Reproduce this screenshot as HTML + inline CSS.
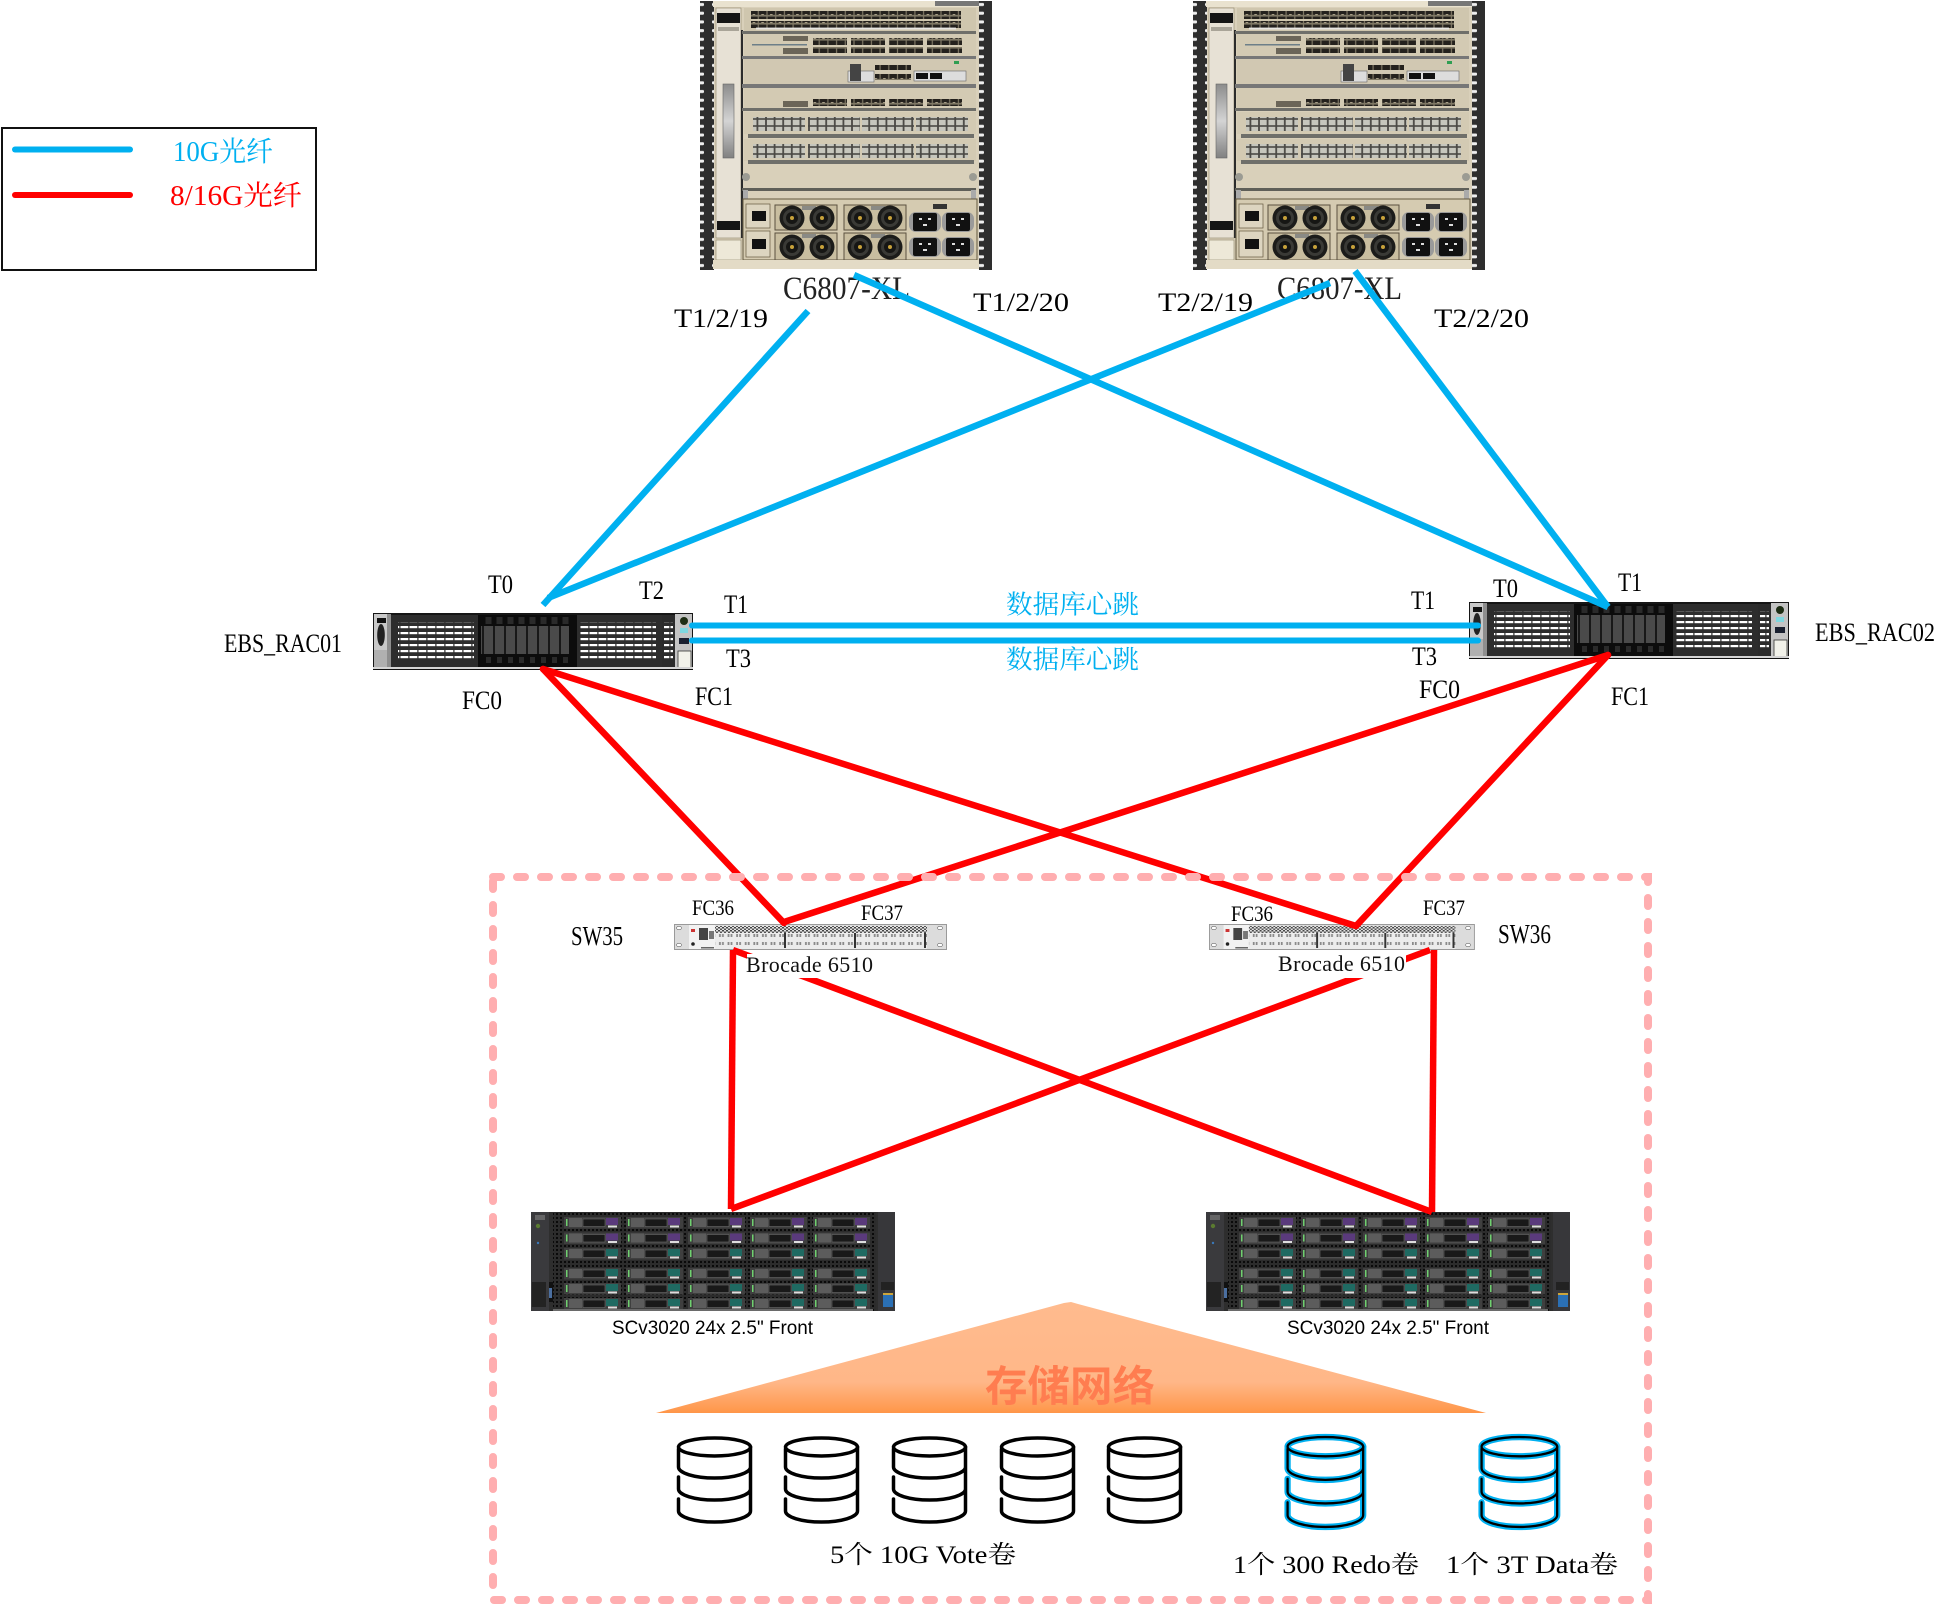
<!DOCTYPE html>
<html lang="zh">
<head>
<meta charset="utf-8">
<title>Network diagram</title>
<style>
html,body{margin:0;padding:0;background:#fff}
svg{display:block}
text{font-family:"Liberation Serif","Noto Serif CJK SC",serif;fill:#000}
.s{font-family:"Liberation Sans","Noto Sans CJK SC",sans-serif}
.b{fill:#00b0f0}
.r{fill:#f00}
</style>
</head>
<body>
<svg width="1949" height="1605" viewBox="0 0 1949 1605">
<defs>
<pattern id="holes" patternUnits="userSpaceOnUse" width="14" height="8.7"><rect width="14" height="8.7" fill="#2e2e2e"/><rect x="4" y="3" width="6" height="3" rx="1" fill="#eee"/></pattern>
<pattern id="pd" patternUnits="userSpaceOnUse" width="8.7" height="8"><rect width="8.7" height="8" fill="#7f7865"/><rect x=".6" y=".6" width="7.5" height="6.2" fill="#24211d"/><rect x="3" y="6" width="2.6" height="1" fill="#a89f88"/></pattern>
<pattern id="pl" patternUnits="userSpaceOnUse" width="8.6" height="7"><rect width="8.6" height="7" fill="#4a4945"/><rect x=".9" y=".8" width="6.8" height="5.4" fill="#c6c6bd"/></pattern>
<pattern id="vent" patternUnits="userSpaceOnUse" width="9" height="6"><rect width="9" height="6" fill="#2d2d2d"/><rect x=".5" y="1" width="7.8" height="2.2" fill="#fff"/></pattern>
<pattern id="bay" patternUnits="userSpaceOnUse" width="11" height="52"><rect width="11" height="52" fill="#0c0c0c"/><rect x="2.5" y="2" width="6" height="9" fill="#2a2a2a"/><rect x=".8" y="13" width="9.4" height="28" fill="#4a4a4a"/><rect x="3" y="44" width="5" height="6" fill="#2a2a2a"/></pattern>
<pattern id="hatch" patternUnits="userSpaceOnUse" width="4" height="3"><rect width="4" height="3" fill="#e4e4e4"/><rect width="2" height="1.5" fill="#444"/><rect x="2" y="1.5" width="2" height="1.5" fill="#555"/></pattern>
<pattern id="swp" patternUnits="userSpaceOnUse" width="8.6" height="8"><rect width="8.6" height="8" fill="#ececec"/><rect x="2" y="2" width="1.8" height="3" fill="#8a8a8a"/><rect x="5" y="2" width="1.8" height="3" fill="#8a8a8a"/></pattern>
<pattern id="perf" patternUnits="userSpaceOnUse" width="4" height="4"><rect width="4" height="4" fill="#2c2c2c"/><rect x="1" y="1" width="2" height="2" fill="#0a0a0a"/></pattern>
<linearGradient id="bar" x1="0" y1="0" x2="0" y2="1"><stop offset="0" stop-color="#8c8c8c"/><stop offset=".5" stop-color="#d4d4d4"/><stop offset="1" stop-color="#808080"/></linearGradient>
<linearGradient id="tri" x1="0" y1="0" x2="0" y2="1"><stop offset="0" stop-color="#ffbb8e"/><stop offset=".72" stop-color="#ffb788"/><stop offset="1" stop-color="#ff9648"/></linearGradient>

<g id="fan"><circle r="12.500" fill="#1c1c1a"/><circle r="9" fill="#3a3a36"/><circle r="6" fill="#161614"/><circle r="2" fill="#c8a23a"/></g>
<g id="outlet"><rect x="-16" y="-10" width="32" height="20" rx="7" fill="#9a9a9a"/><rect x="-12" y="-9" width="24" height="18" rx="2" fill="#111"/><rect x="-6" y="-4" width="3" height="2" fill="#ddd"/><rect x="3" y="-4" width="3" height="2" fill="#ddd"/><rect x="-2" y="2" width="4" height="2" fill="#ddd"/></g>

<g id="ch">
<rect x="33" y="1" width="266" height="268" fill="#d9d0ba"/>
<rect x="20" y="1" width="14" height="269" fill="url(#holes)"/>
<rect x="299" y="1" width="13" height="269" fill="url(#holes)"/>
<rect x="33" y="1" width="266" height="6" fill="#e9e2cf"/>
<rect x="255" y="1" width="44" height="5" fill="#777"/>
<rect x="36" y="8" width="25" height="230" fill="#e7e1d5" stroke="#8d8468" stroke-width=".6"/>
<rect x="37" y="13" width="23" height="10" fill="#151515"/>
<rect x="37" y="221" width="23" height="9" fill="#151515"/>
<rect x="38" y="27" width="21" height="4" fill="#a9a498"/>
<rect x="43" y="84" width="11" height="74" fill="url(#bar)" stroke="#666" stroke-width=".6"/>
<rect x="36" y="240" width="25" height="20" fill="#ede8d8" stroke="#8d8468" stroke-width=".6"/>
<rect x="61" y="30" width="2" height="208" fill="#2b2b2b"/>
<rect x="64" y="8" width="232" height="23" fill="#cfc6ae"/>
<rect x="71" y="11" width="210" height="8" fill="url(#pd)"/>
<rect x="71" y="21" width="210" height="7" fill="url(#pd)"/>
<rect x="76" y="27.500" width="200" height="2" fill="#eee" opacity=".8"/>
<rect x="62" y="31" width="234" height="3" fill="#6f6f6a"/>
<rect x="64" y="34" width="232" height="22" fill="#d3cab3"/>
<rect x="133" y="38" width="34" height="7" fill="url(#pd)"/><rect x="171" y="38" width="34" height="7" fill="url(#pd)"/><rect x="209" y="38" width="34" height="7" fill="url(#pd)"/><rect x="247" y="38" width="35" height="7" fill="url(#pd)"/>
<rect x="133" y="47" width="34" height="6" fill="url(#pd)"/><rect x="171" y="47" width="34" height="6" fill="url(#pd)"/><rect x="209" y="47" width="34" height="6" fill="url(#pd)"/><rect x="247" y="47" width="35" height="6" fill="url(#pd)"/>
<rect x="103" y="36" width="25" height="5" fill="#6b6558"/><rect x="103" y="48" width="25" height="6" fill="#6b6558"/><rect x="72" y="44" width="55" height="1.500" fill="#6d7f88"/>
<rect x="62" y="56" width="234" height="3" fill="#777"/>
<rect x="64" y="59" width="232" height="27" fill="#d1c8b2"/>
<rect x="195" y="65" width="36" height="5" fill="url(#pd)"/><rect x="195" y="74" width="36" height="6" fill="url(#pd)"/>
<rect x="168" y="71" width="26" height="11" fill="#ddd" stroke="#666" stroke-width=".6"/><rect x="170" y="64" width="11" height="17" fill="#444"/>
<rect x="234" y="71" width="52" height="10" fill="#ddd" stroke="#666" stroke-width=".6"/><rect x="236" y="73" width="12" height="6" fill="#111"/><rect x="250" y="73" width="12" height="6" fill="#111"/>
<rect x="274" y="61" width="5" height="3" fill="#2f9e52"/>
<rect x="62" y="84" width="234" height="4" fill="#777"/>
<rect x="64" y="88" width="232" height="22" fill="#d3cab3"/>
<rect x="133" y="99" width="34" height="7" fill="url(#pd)"/><rect x="171" y="99" width="34" height="7" fill="url(#pd)"/><rect x="209" y="99" width="34" height="7" fill="url(#pd)"/><rect x="247" y="99" width="35" height="7" fill="url(#pd)"/>
<rect x="103" y="101" width="25" height="6" fill="#6b6558"/>
<rect x="62" y="108" width="234" height="3" fill="#6f6f6a"/>
<rect x="64" y="112" width="232" height="22" fill="#d3cab3"/>
<rect x="73" y="117" width="52" height="14" fill="url(#pl)"/><rect x="128" y="117" width="52" height="14" fill="url(#pl)"/><rect x="182" y="117" width="52" height="14" fill="url(#pl)"/><rect x="236" y="117" width="52" height="14" fill="url(#pl)"/>
<rect x="68" y="134" width="226" height="4" fill="#6f6f6a"/>
<rect x="64" y="139" width="232" height="22" fill="#d3cab3"/>
<rect x="73" y="144" width="52" height="14" fill="url(#pl)"/><rect x="128" y="144" width="52" height="14" fill="url(#pl)"/><rect x="182" y="144" width="52" height="14" fill="url(#pl)"/><rect x="236" y="144" width="52" height="14" fill="url(#pl)"/>
<rect x="68" y="160" width="226" height="4" fill="#6f6f6a"/>
<circle cx="66" cy="177" r="4" fill="#9b9b93"/><circle cx="293" cy="177" r="4" fill="#9b9b93"/>
<rect x="62" y="188" width="234" height="3" fill="#5f5f58"/>
<rect x="63" y="190" width="5" height="9" fill="#aaa"/><rect x="291" y="190" width="5" height="9" fill="#aaa"/>
<rect x="63" y="199" width="234" height="61" fill="#d5cbb1" stroke="#64583f"/>
<rect x="66" y="204" width="24" height="24" fill="#ddd5c0" stroke="#64583f" stroke-width=".7"/><rect x="72" y="211" width="14" height="10" fill="#111"/>
<rect x="66" y="231" width="24" height="26" fill="#ddd5c0" stroke="#64583f" stroke-width=".7"/><rect x="72" y="239" width="14" height="10" fill="#111"/>
<rect x="95" y="205" width="62" height="25" fill="#c9bea0" stroke="#5a5040"/><rect x="95" y="233" width="62" height="27" fill="#c9bea0" stroke="#5a5040"/>
<rect x="164" y="205" width="62" height="25" fill="#c9bea0" stroke="#5a5040"/><rect x="164" y="233" width="62" height="27" fill="#c9bea0" stroke="#5a5040"/>
<rect x="122" y="206" width="14" height="4" fill="#8a8a85"/><rect x="122" y="234" width="14" height="4" fill="#8a8a85"/><rect x="191" y="206" width="14" height="4" fill="#8a8a85"/><rect x="191" y="234" width="14" height="4" fill="#8a8a85"/>
<use href="#fan" x="112" y="218"/><use href="#fan" x="142" y="218"/><use href="#fan" x="180" y="218"/><use href="#fan" x="210" y="218"/>
<use href="#fan" x="112" y="247"/><use href="#fan" x="142" y="247"/><use href="#fan" x="180" y="247"/><use href="#fan" x="210" y="247"/>
<use href="#outlet" x="245" y="222"/><use href="#outlet" x="278" y="222"/><use href="#outlet" x="245" y="247"/><use href="#outlet" x="278" y="247"/>
<rect x="253" y="204" width="14" height="5" fill="#333"/>
<rect x="33" y="260" width="266" height="9" fill="#e3dbc6"/>
</g>

<g id="srv">
<rect x="0" y="0" width="320" height="57" fill="#161616"/>
<rect x="1" y="1" width="17" height="55" fill="#b0b0b0"/>
<rect x="1" y="1" width="13" height="36" fill="#c9c9c9"/>
<rect x="4" y="5" width="9" height="5" fill="#111"/><ellipse cx="8" cy="22" rx="3.800" ry="11" fill="#222"/>
<rect x="14" y="1" width="4" height="55" fill="#8e8e8e"/>
<rect x="18" y="2" width="87" height="53" fill="#2d2d2d"/>
<rect x="25" y="9" width="76" height="38" fill="url(#vent)"/>
<rect x="105" y="2" width="99" height="53" fill="#0c0c0c"/>
<rect x="108" y="4" width="88" height="52" fill="url(#bay)"/>
<rect x="204" y="2" width="88" height="53" fill="#2d2d2d"/>
<rect x="207" y="9" width="76" height="38" fill="url(#vent)"/>
<rect x="289" y="2" width="13" height="53" fill="#2b2b2b"/>
<rect x="291" y="9" width="9" height="38" fill="url(#vent)"/>
<rect x="302" y="1" width="17" height="55" fill="#c4c4c4"/>
<circle cx="311" cy="8" r="4" fill="#1d2d14"/><rect x="307" y="15" width="8" height="5" fill="#7fd8e0"/><rect x="306" y="25" width="10" height="6" fill="#1a2030"/>
<rect x="305" y="38" width="13" height="17" fill="#f2f2ea" stroke="#333" stroke-width=".8"/>
<rect x="0" y="54" width="320" height="3" fill="#d5d5d5"/><rect x="0" y="56" width="320" height="1" fill="#111"/>
</g>

<g id="sw">
<rect x=".5" y=".5" width="272" height="25" fill="#dcdcdc" stroke="#9a9a9a"/>
<ellipse cx="5" cy="4" rx="2.500" ry="1.700" fill="#fff" stroke="#666" stroke-width=".6"/><ellipse cx="5" cy="21" rx="2.500" ry="1.700" fill="#fff" stroke="#666" stroke-width=".6"/>
<ellipse cx="266" cy="4" rx="2.500" ry="1.700" fill="#fff" stroke="#666" stroke-width=".6"/><ellipse cx="266" cy="21" rx="2.500" ry="1.700" fill="#fff" stroke="#666" stroke-width=".6"/>
<rect x="15" y="1" width="26" height="24" fill="#f2f2f2"/>
<rect x="25" y="4" width="9" height="12" fill="#444"/><rect x="35" y="7" width="5" height="8" fill="#777"/><circle cx="19" cy="20" r="1.800" fill="#222"/><rect x="17" y="5" width="4" height="3" fill="#c33"/>
<rect x="41" y="2" width="212" height="7" fill="url(#hatch)"/>
<rect x="41" y="9" width="212" height="16" fill="url(#swp)"/>
<rect x="110" y="9" width="2" height="15" fill="#333"/><rect x="180" y="9" width="2" height="15" fill="#333"/><rect x="250" y="9" width="2" height="15" fill="#333"/>
<rect x="27" y="23" width="13" height="1.500" fill="#666"/>
</g>

<g id="dp"><rect width="57" height="11.500" fill="#3f3f3f"/><rect x="2" y="2" width="1.500" height="7" fill="#6fd06f"/><rect x="5" y="1" width="13" height="9" fill="#5c5c5c"/><rect x="19" y="2" width="22" height="7.500" fill="#191919" stroke="#6a6a6a" stroke-width=".6"/><rect x="42" y="1" width="12" height="7" fill="#5a3a7c"/><rect x="44" y="8.500" width="9" height="2" fill="#ddd"/></g>
<g id="dt"><rect width="57" height="11.500" fill="#3f3f3f"/><rect x="2" y="2" width="1.500" height="7" fill="#6fd06f"/><rect x="5" y="1" width="13" height="9" fill="#5c5c5c"/><rect x="19" y="2" width="22" height="7.500" fill="#191919" stroke="#6a6a6a" stroke-width=".6"/><rect x="42" y="1" width="12" height="7" fill="#1f6a62"/><rect x="44" y="8.500" width="9" height="2" fill="#ddd"/></g>

<g id="st">
<rect x="0" y="0" width="364" height="99" fill="#2e2e2e"/>
<rect x="22" y="0" width="323" height="99" fill="url(#perf)"/>
<rect x="0" y="0" width="18" height="99" fill="#3a3a3d"/>
<rect x="4" y="3" width="10" height="5" fill="#777" opacity=".7"/>
<circle cx="7" cy="14" r="2.200" fill="#5a7a30"/><circle cx="7" cy="31" r="1.200" fill="#3a78b8"/>
<rect x="1" y="70" width="14" height="25" fill="#232323"/>
<rect x="18" y="70" width="4" height="20" fill="#111"/><rect x="18" y="76" width="3" height="10" fill="#4b6fa0"/>
<rect x="347" y="0" width="17" height="99" fill="#37373a"/><rect x="350" y="70" width="13" height="8" fill="#222"/>
<rect x="352" y="81" width="10" height="14" fill="#2b70b5"/><rect x="352" y="81" width="10" height="2" fill="#cda53a"/>
<g id="rowp">
<use href="#dp" x="33" y="5"/><use href="#dp" x="95" y="5"/><use href="#dp" x="157" y="5"/><use href="#dp" x="219" y="5"/><use href="#dp" x="282" y="5"/>
</g>
<use href="#rowp" y="15.500"/>
<g id="rowt">
<use href="#dt" x="33" y="36"/><use href="#dt" x="95" y="36"/><use href="#dt" x="157" y="36"/><use href="#dt" x="219" y="36"/><use href="#dt" x="282" y="36"/>
</g>
<use href="#rowt" y="20"/><use href="#rowt" y="35"/><use href="#rowt" y="50"/>
<rect x="22" y="97" width="320" height="2" fill="#6a6a6a"/>
</g>

<g id="cyl" fill="none" stroke-linecap="round">
<ellipse cx="37.500" cy="10" rx="36" ry="9"/>
<path d="M1.500 12V30A36 11 0 0 0 73.500 30M1.500 40V52A36 11 0 0 0 73.500 52M1.500 62V74A36 11 0 0 0 73.500 74M73.500 10V74"/>
</g>
</defs>

<!-- legend -->
<rect x="2" y="128" width="314" height="142" fill="#fff" stroke="#111" stroke-width="2"/>
<line x1="15" y1="149.500" x2="130" y2="149.500" stroke="#00b0f0" stroke-width="6" stroke-linecap="round"/>
<line x1="15" y1="195" x2="130" y2="195" stroke="#f00" stroke-width="6" stroke-linecap="round"/>
<text class="b" x="173" y="161" font-size="28" textLength="100" lengthAdjust="spacingAndGlyphs">10G光纤</text>
<text class="r" x="170" y="205" font-size="28" textLength="132" lengthAdjust="spacingAndGlyphs">8/16G光纤</text>

<!-- chassis -->
<use href="#ch" x="680" y="0"/>
<use href="#ch" x="1173" y="0"/>
<text x="783" y="299" font-size="33" textLength="127" lengthAdjust="spacingAndGlyphs" style="fill:#222">C6807-XL</text>
<text x="1277" y="299" font-size="33" textLength="125" lengthAdjust="spacingAndGlyphs" style="fill:#222">C6807-XL</text>

<text x="674" y="327" font-size="26" textLength="94" lengthAdjust="spacingAndGlyphs">T1/2/19</text>
<text x="973" y="311" font-size="26" textLength="96" lengthAdjust="spacingAndGlyphs">T1/2/20</text>
<text x="1158" y="311" font-size="26" textLength="95" lengthAdjust="spacingAndGlyphs">T2/2/19</text>
<text x="1434" y="327" font-size="26" textLength="95" lengthAdjust="spacingAndGlyphs">T2/2/20</text>

<!-- servers -->
<use href="#srv" x="373" y="613"/>
<use href="#srv" x="1469" y="602"/>

<text x="224" y="652" font-size="26" textLength="118" lengthAdjust="spacingAndGlyphs">EBS_RAC01</text>
<text x="1815" y="641" font-size="26" textLength="120" lengthAdjust="spacingAndGlyphs">EBS_RAC02</text>
<text x="488" y="593" font-size="26" textLength="25" lengthAdjust="spacingAndGlyphs">T0</text>
<text x="639" y="599" font-size="26" textLength="25" lengthAdjust="spacingAndGlyphs">T2</text>
<text x="724" y="613" font-size="26" textLength="24" lengthAdjust="spacingAndGlyphs">T1</text>
<text x="726" y="667" font-size="26" textLength="25" lengthAdjust="spacingAndGlyphs">T3</text>
<text x="462" y="709" font-size="26" textLength="40" lengthAdjust="spacingAndGlyphs">FC0</text>
<text x="695" y="705" font-size="26" textLength="38" lengthAdjust="spacingAndGlyphs">FC1</text>
<text x="1411" y="609" font-size="26" textLength="24" lengthAdjust="spacingAndGlyphs">T1</text>
<text x="1412" y="665" font-size="26" textLength="25" lengthAdjust="spacingAndGlyphs">T3</text>
<text x="1493" y="597" font-size="26" textLength="25" lengthAdjust="spacingAndGlyphs">T0</text>
<text x="1618" y="591" font-size="26" textLength="24" lengthAdjust="spacingAndGlyphs">T1</text>
<text x="1419" y="698" font-size="26" textLength="41" lengthAdjust="spacingAndGlyphs">FC0</text>
<text x="1611" y="705" font-size="26" textLength="38" lengthAdjust="spacingAndGlyphs">FC1</text>
<text class="b" x="1006" y="613.500" font-size="26" textLength="133" lengthAdjust="spacingAndGlyphs">数据库心跳</text>
<text class="b" x="1006" y="668.500" font-size="26" textLength="133" lengthAdjust="spacingAndGlyphs">数据库心跳</text>

<!-- switches -->
<use href="#sw" x="674" y="924"/>
<g transform="translate(1209 924) scale(.974 1)"><use href="#sw"/></g>
<text x="692" y="915" font-size="22" textLength="42" lengthAdjust="spacingAndGlyphs">FC36</text>
<text x="861" y="920" font-size="22" textLength="42" lengthAdjust="spacingAndGlyphs">FC37</text>
<text x="1231" y="921" font-size="22" textLength="42" lengthAdjust="spacingAndGlyphs">FC36</text>
<text x="1423" y="915" font-size="22" textLength="42" lengthAdjust="spacingAndGlyphs">FC37</text>
<text x="571" y="945" font-size="27" textLength="52" lengthAdjust="spacingAndGlyphs">SW35</text>
<text x="1498" y="943" font-size="27" textLength="53" lengthAdjust="spacingAndGlyphs">SW36</text>

<!-- storage -->
<use href="#st" x="531" y="1212"/>
<use href="#st" x="1206" y="1212"/>
<text class="s" x="612" y="1334" font-size="19" textLength="201" lengthAdjust="spacingAndGlyphs">SCv3020 24x 2.5" Front</text>
<text class="s" x="1287" y="1334" font-size="19" textLength="202" lengthAdjust="spacingAndGlyphs">SCv3020 24x 2.5" Front</text>

<!-- lines -->
<g fill="none" stroke-width="6.500" stroke="#00b0f0" stroke-linecap="round">
<line x1="808" y1="311" x2="543" y2="605" stroke-linecap="butt"/>
<line x1="854" y1="275" x2="1608" y2="607" stroke-linecap="butt"/>
<line x1="1330" y1="283" x2="548" y2="598" stroke-linecap="butt"/>
<line x1="1355" y1="271" x2="1608" y2="607" stroke-linecap="butt"/>
<line x1="692" y1="625.500" x2="1478" y2="625.500" stroke-width="6"/>
<line x1="692" y1="640.500" x2="1478" y2="640.500" stroke-width="6"/>
</g>
<g fill="none" stroke-width="6.500" stroke="#f00" stroke-linecap="round">
<line x1="543" y1="669" x2="784" y2="923"/>
<line x1="543" y1="669" x2="1356" y2="926"/>
<line x1="1608" y1="655" x2="784" y2="922"/>
<line x1="1608" y1="655" x2="1356" y2="926"/>
<line x1="733" y1="950" x2="731" y2="1209" stroke-linecap="butt"/>
<line x1="1434" y1="950" x2="1432" y2="1212" stroke-linecap="butt"/>
<line x1="733" y1="950" x2="1432" y2="1212" stroke-linecap="butt"/>
<line x1="1430" y1="950" x2="731" y2="1209" stroke-linecap="butt"/>
</g>
<rect x="747" y="954" width="130" height="24" fill="#fff"/>
<rect x="1274" y="954" width="132" height="24" fill="#fff"/>
<text x="746" y="972" font-size="22" textLength="127" lengthAdjust="spacing" style="fill:#111">Brocade 6510</text>
<text x="1278" y="971" font-size="22" textLength="127" lengthAdjust="spacing" style="fill:#111">Brocade 6510</text>

<!-- triangle -->
<polygon points="1064,1303 1071,1302 1078,1304 1486,1413 656,1413" fill="url(#tri)"/>
<text class="s" x="985" y="1401" font-size="42" font-weight="bold" textLength="170" lengthAdjust="spacingAndGlyphs" style="fill:#ff7d50">存储网络</text>

<!-- cylinders -->
<g stroke="#000" stroke-width="3.500">
<use href="#cyl" x="677" y="1437"/>
<use href="#cyl" x="784" y="1437"/>
<use href="#cyl" x="892" y="1437"/>
<use href="#cyl" x="1000" y="1437"/>
<use href="#cyl" x="1107" y="1437"/>
</g>
<g transform="translate(1286 1436) scale(1.05 1.07)">
<use href="#cyl" stroke="#00b0f0" stroke-width="6"/>
<use href="#cyl" stroke="#000" stroke-width="2.200"/>
</g>
<g transform="translate(1480 1436) scale(1.05 1.07)">
<use href="#cyl" stroke="#00b0f0" stroke-width="6"/>
<use href="#cyl" stroke="#000" stroke-width="2.200"/>
</g>
<text x="830" y="1563" font-size="25" textLength="186" lengthAdjust="spacingAndGlyphs">5个 10G Vote卷</text>
<text x="1233" y="1573" font-size="25" textLength="186" lengthAdjust="spacingAndGlyphs">1个 300 Redo卷</text>
<text x="1446" y="1573" font-size="25" textLength="172" lengthAdjust="spacingAndGlyphs">1个 3T Data卷</text>

<!-- dashed frame -->
<rect x="493" y="877" width="1155" height="723" fill="none" stroke="#ffaeb0" stroke-width="8" stroke-dasharray="8 16" stroke-linecap="round"/>
</svg>
</body>
</html>
